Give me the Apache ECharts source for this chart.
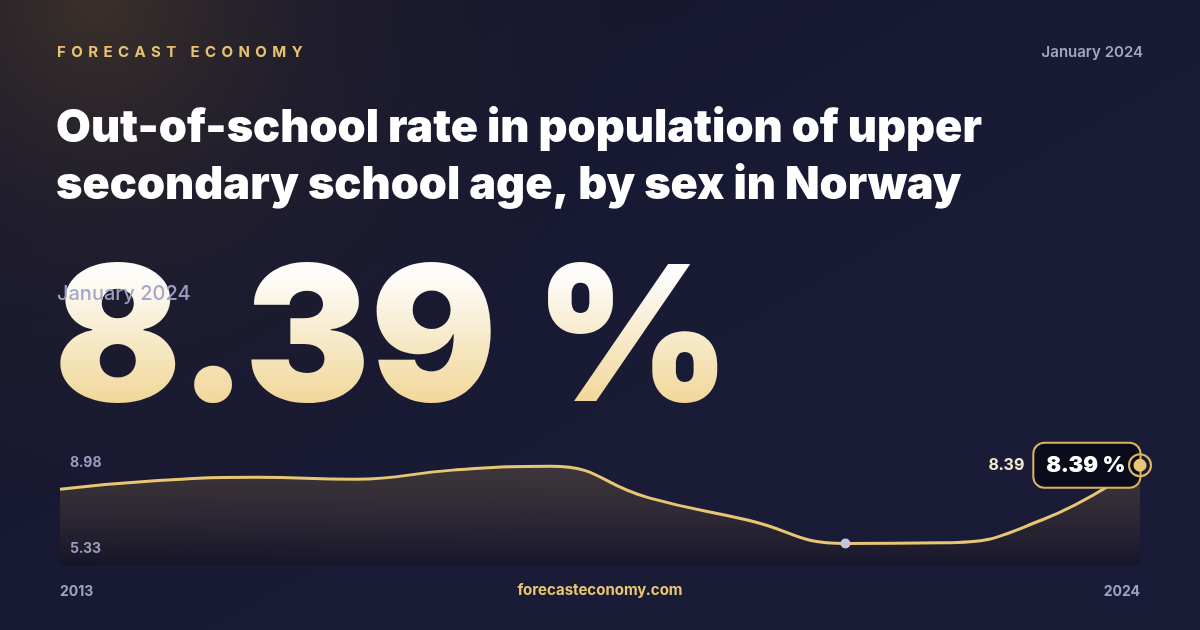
<!DOCTYPE html>
<html>
<head>
<meta charset="utf-8">
<title>Out-of-school rate - Norway</title>
<script src="https://cdn.jsdelivr.net/npm/echarts@6/dist/echarts.min.js"></script>
<style>
  html, body { margin: 0; padding: 0; background: #15162b; }
  #main { width: 1200px; height: 630px; }
</style>
</head>
<body>
<div id="main"></div>
<script>
// data
var years = ['2013', '2014', '2015', '2016', '2017', '2018', '2019', '2020', '2021', '2022', '2023', '2024'];
var rates = [7.65, 7.92, 8.02, 7.96, 8.24, 8.36, 7.39, 6.71, 5.99, 6.01, 6.71, 8.39];
var rangeLabels = [5.33, 8.98];   // min / max shown on the left
var markedIndex = 8;              // grey dot
var titleLines = ['Out-of-school rate in population of upper', 'secondary school age, by sex in Norway'];
var periodText = 'January 2024';
var brandText = 'FORECAST ECONOMY';

var gold = '#e8c673';
var lastIdx = rates.length - 1;
var lastVal = rates[lastIdx];

var lineData = rates.map(function (v, i) {
  if (i === markedIndex) {
    return { value: v, symbol: 'circle', symbolSize: 10, itemStyle: { color: '#c3c6dc' } };
  }
  if (i === lastIdx) {
    return { value: v, symbol: 'circle', symbolSize: 2, itemStyle: { color: gold } };
  }
  return { value: v, symbol: 'none' };
});

// letter spaced brand line (one text per letter)
var brandFont = '700 15px Inter';
var mctx = document.createElement('canvas').getContext('2d');
mctx.font = brandFont;
var brandSpacing = (245 - mctx.measureText(brandText).width) / (brandText.length - 1);
var brandGraphics = [];
var bx = 57;
for (var k = 0; k < brandText.length; k++) {
  var ch = brandText.charAt(k);
  if (ch !== ' ') {
    brandGraphics.push({
      type: 'text', x: bx, y: 52, silent: true,
      style: { text: ch, fill: '#e6c170', font: brandFont, verticalAlign: 'middle' }
    });
  }
  bx += mctx.measureText(ch).width + brandSpacing;
}

var chart = echarts.init(document.getElementById('main'));

chart.setOption({
  animation: false,
  backgroundColor: 'transparent',
  grid: { left: 60, right: 60, top: 446, bottom: 65 },
  xAxis: {
    type: 'category',
    data: years,
    boundaryGap: false,
    axisLine: { show: false },
    axisTick: { show: false },
    splitLine: { show: false },
    axisLabel: {
      interval: function (i) { return i === 0 || i === lastIdx; },
      alignMinLabel: 'left',
      alignMaxLabel: 'right',
      margin: 20,
      color: '#9ea1c4',
      fontFamily: 'Inter',
      fontWeight: 700,
      fontSize: 14
    }
  },
  yAxis: {
    type: 'value',
    min: rangeLabels[0],
    max: rangeLabels[1],
    show: false
  },
  series: [
    {
      type: 'line',
      data: lineData,
      smooth: 0.5,
      symbol: 'none',
      z: 2,
      lineStyle: { color: gold, width: 3 },
      areaStyle: {
        color: new echarts.graphic.LinearGradient(0, 0, 0, 1, [
          { offset: 0, color: 'rgba(222,176,80,0.26)' },
          { offset: 1, color: 'rgba(12,6,10,0.35)' }
        ])
      },
      label: { show: false },
      emphasis: { disabled: true }
    },
    {
      // value tag at the last point
      type: 'scatter',
      data: [[lastIdx, lastVal]],
      symbolSize: 1,
      itemStyle: { color: 'rgba(0,0,0,0)', opacity: 1 },
      z: 4,
      silent: true,
      label: {
        show: true,
        position: 'left',
        distance: 0,
        formatter: function (p) {
          var v = p.value[1].toFixed(2);
          return '{v|' + v + '}{box|' + v + ' %}';
        },
        rich: {
          v: { fontFamily: 'Inter', fontWeight: 700, fontSize: 16, color: '#f1e8cf', padding: [0, 10, 0, 0] },
          box: {
            fontFamily: 'Inter', fontWeight: 900, fontSize: 22, color: '#ffffff',
            backgroundColor: '#0b0c1b', borderColor: '#d9b45f', borderWidth: 2, borderRadius: 10,
            padding: [11, 14, 10, 12]
          }
        }
      }
    },
    {
      type: 'scatter',
      data: [[lastIdx, lastVal]],
      symbol: 'circle',
      symbolSize: 22,
      itemStyle: { color: 'rgba(0,0,0,0)', borderColor: '#ddb862', borderWidth: 2, opacity: 1 },
      z: 6,
      silent: true
    },
    {
      type: 'scatter',
      data: [[lastIdx, lastVal]],
      symbol: 'circle',
      symbolSize: 13,
      itemStyle: { color: gold, opacity: 1 },
      z: 7,
      silent: true
    }
  ],
  graphic: brandGraphics.concat([
    {
      type: 'rect', z: -10, silent: true,
      shape: { x: 0, y: 0, width: 1200, height: 630 },
      style: {
        fill: new echarts.graphic.LinearGradient(0, 0, 0.3, 1, [
          { offset: 0, color: '#13142a' },
          { offset: 1, color: '#1a1b36' }
        ])
      }
    },
    {
      type: 'rect', z: -9, silent: true,
      shape: { x: 0, y: 0, width: 1200, height: 630 },
      style: {
        fill: new echarts.graphic.RadialGradient(0.08, 0, 0.9, [
          { offset: 0, color: 'rgba(72,58,42,0.75)' },
          { offset: 0.4, color: 'rgba(52,44,42,0.35)' },
          { offset: 1, color: 'rgba(30,30,50,0)' }
        ])
      }
    },
    {
      type: 'text', right: 57, top: 45, silent: true,
      style: { text: periodText, fill: '#a3a5c2', font: '600 15px Inter' }
    },
    {
      type: 'text', left: 56, top: 100, silent: true,
      style: {
        text: titleLines.join('\n'),
        fill: '#ffffff', font: '900 45px Inter', lineHeight: 57
      }
    },
    // big number: white text on its own layer, then gradient painted only over the glyphs
    {
      type: 'text', left: 54, top: 250, silent: true, zlevel: 1, z: 1,
      style: { text: lastVal.toFixed(2) + ' %', font: '900 188px Inter', fill: '#ffffff' }
    },
    {
      type: 'rect', silent: true, zlevel: 1, z: 2,
      shape: { x: 40, y: 262, width: 720, height: 150 },
      style: {
        blend: 'source-atop',
        fill: new echarts.graphic.LinearGradient(0, 0, 0, 1, [
          { offset: 0.1, color: '#fdfcf8' },
          { offset: 1, color: '#f0d492' }
        ])
      }
    },
    {
      type: 'text', left: 57, top: 284, silent: true, zlevel: 2,
      style: { text: periodText, fill: 'rgba(160,163,200,0.95)', font: '500 20px Inter' }
    },
    {
      type: 'text', left: 'center', top: 583, silent: true,
      style: { text: 'forecasteconomy.com', fill: gold, font: '700 15px Inter' }
    }
  ])
});

// min / max labels at the grid corners
var topLeft = chart.convertToPixel({ gridIndex: 0 }, [0, rangeLabels[1]]);
var botLeft = chart.convertToPixel({ gridIndex: 0 }, [0, rangeLabels[0]]);
chart.setOption({
  graphic: [
    {
      type: 'text', id: 'maxLbl', x: topLeft[0] + 10, y: topLeft[1] + 17, silent: true, z: 3,
      style: { text: rangeLabels[1].toFixed(2), fill: '#9a9dbf', font: '700 14px Inter', verticalAlign: 'middle' }
    },
    {
      type: 'text', id: 'minLbl', x: botLeft[0] + 10, y: botLeft[1] - 16, silent: true, z: 3,
      style: { text: rangeLabels[0].toFixed(2), fill: '#9a9dbf', font: '700 14px Inter', verticalAlign: 'middle' }
    }
  ]
});
</script>
</body>
</html>
